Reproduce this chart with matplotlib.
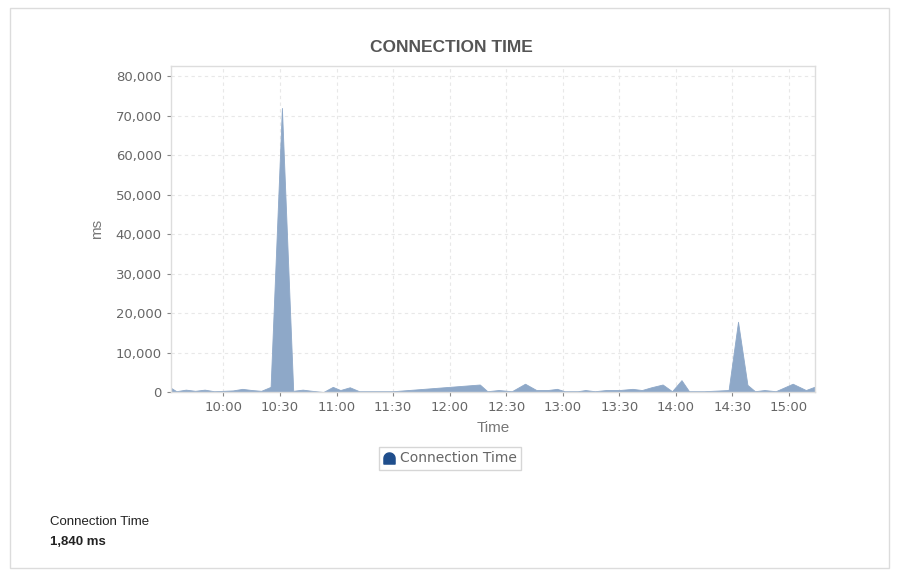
import matplotlib
matplotlib.use("Agg")
import matplotlib.pyplot as plt
import matplotlib.dates as mdates
from matplotlib.path import Path
from matplotlib.lines import Line2D
from matplotlib.patches import Rectangle
from matplotlib.ticker import FuncFormatter, MultipleLocator
import datetime as dt

times = ["09:32", "09:35", "09:40", "09:45", "09:50", "09:55", "10:00", "10:05", "10:10",
         "10:15", "10:20", "10:25", "10:31", "10:37", "10:42", "10:47", "10:53", "10:58",
         "11:02", "11:07", "11:12", "11:20", "11:30", "12:16", "12:20", "12:26", "12:33",
         "12:40", "12:46", "12:52", "12:57", "13:01", "13:08", "13:12", "13:17", "13:23",
         "13:30", "13:37", "13:42", "13:47", "13:53", "13:58", "14:03", "14:07", "14:15",
         "14:28", "14:33", "14:38", "14:42", "14:47", "14:53", "15:02", "15:09", "15:14"]
values = [1100, 200, 600, 300, 600, 200, 300, 400, 800,
          500, 300, 1300, 72000, 300, 600, 300, 0, 1300,
          500, 1200, 200, 200, 200, 1900, 200, 500, 200,
          2100, 500, 500, 800, 200, 200, 500, 200, 500,
          500, 800, 500, 1200, 1900, 200, 3000, 200, 200,
          500, 17800, 1800, 200, 500, 200, 2100, 500, 1400]
series_name = "Connection Time"
summary_label = "Connection Time"
summary_value = "1,840 ms"

x = [dt.datetime(2024, 1, 1, int(t[:2]), int(t[3:])) for t in times]

W, H = 902, 578
fig = plt.figure(figsize=(W / 100, H / 100), dpi=100)
fig.patch.set_facecolor("white")

# outer border
fig.add_artist(Rectangle((10 / W, 1 - 568 / H), (889 - 10) / W, (568 - 8) / H,
                         transform=fig.transFigure, fill=False, ec="#dcdcdc", lw=1))

ax = fig.add_axes([170.7 / W, 1 - 392 / H, (815.3 - 170.7) / W, (392 - 65.7) / H])
fill_color = "#8ea8c8"
ax.fill_between(x, values, 0, color=fill_color, lw=0.6, ec=fill_color)

ax.set_xlim(x[0], x[-1])
ax.set_ylim(0, 82700)
ax.yaxis.set_major_locator(MultipleLocator(10000))
ax.yaxis.set_major_formatter(FuncFormatter(lambda v, p: f"{int(v):,}"))
ax.xaxis.set_major_locator(mdates.MinuteLocator(byminute=[0, 30]))
ax.xaxis.set_major_formatter(mdates.DateFormatter("%H:%M"))

ax.grid(True, color="#e8e8e8", ls=(0, (3, 3)), lw=0.8)
ax.set_axisbelow(True)
for s in ax.spines.values():
    s.set_color("#dddddd")
    s.set_linewidth(1)
ax.tick_params(axis="both", colors="#888888", labelcolor="#666666", labelsize=9.5,
               length=3, width=0.8)
for lab in ax.get_xticklabels() + ax.get_yticklabels():
    lab.set_fontfamily("DejaVu Sans")

ax.set_xlabel("Time", fontsize=11, color="#777777", family="Liberation Sans", labelpad=5)
ax.set_ylabel("ms", fontsize=11, color="#777777", family="Liberation Sans", labelpad=8)

fig.text(451 / W, 1 - 47 / H, "CONNECTION TIME", ha="center", va="center",
         fontsize=12.5, fontweight="bold", color="#555555", family="Liberation Sans")

# legend with bell-shaped marker
import numpy as np
ang = np.linspace(np.pi, 0, 20)
verts = [(-1, -1), (-1, 0)] + [(np.cos(a), 0.0 + np.sin(a)) for a in ang] + [(1, -1), (-1, -1)]
codes = [Path.MOVETO] + [Path.LINETO] * (len(verts) - 2) + [Path.CLOSEPOLY]
bell = Path(verts, codes)
handle = Line2D([], [], ls="none", marker=bell, markersize=8, color="#1f4e8c")
leg = fig.legend([handle], [series_name], loc="center", bbox_to_anchor=(450 / W, 1 - 458.5 / H),
                 frameon=True, fancybox=False, edgecolor="#cccccc", fontsize=10,
                 handlelength=0.8, handletextpad=0.4, borderpad=0.3, borderaxespad=0)
leg.get_frame().set_linewidth(1)
for t in leg.get_texts():
    t.set_color("#666666")
    t.set_fontfamily("DejaVu Sans")

fig.text(50 / W, 1 - 522 / H, summary_label, ha="left", va="center", fontsize=9.5,
         color="#222222", family=["Liberation Sans Narrow", "Liberation Sans"])
fig.text(50 / W, 1 - 542 / H, summary_value, ha="left", va="center", fontsize=9.5,
         fontweight="bold", color="#222222", family=["Liberation Sans Narrow", "Liberation Sans"])

fig.savefig("out.png", dpi=100, facecolor="white")
